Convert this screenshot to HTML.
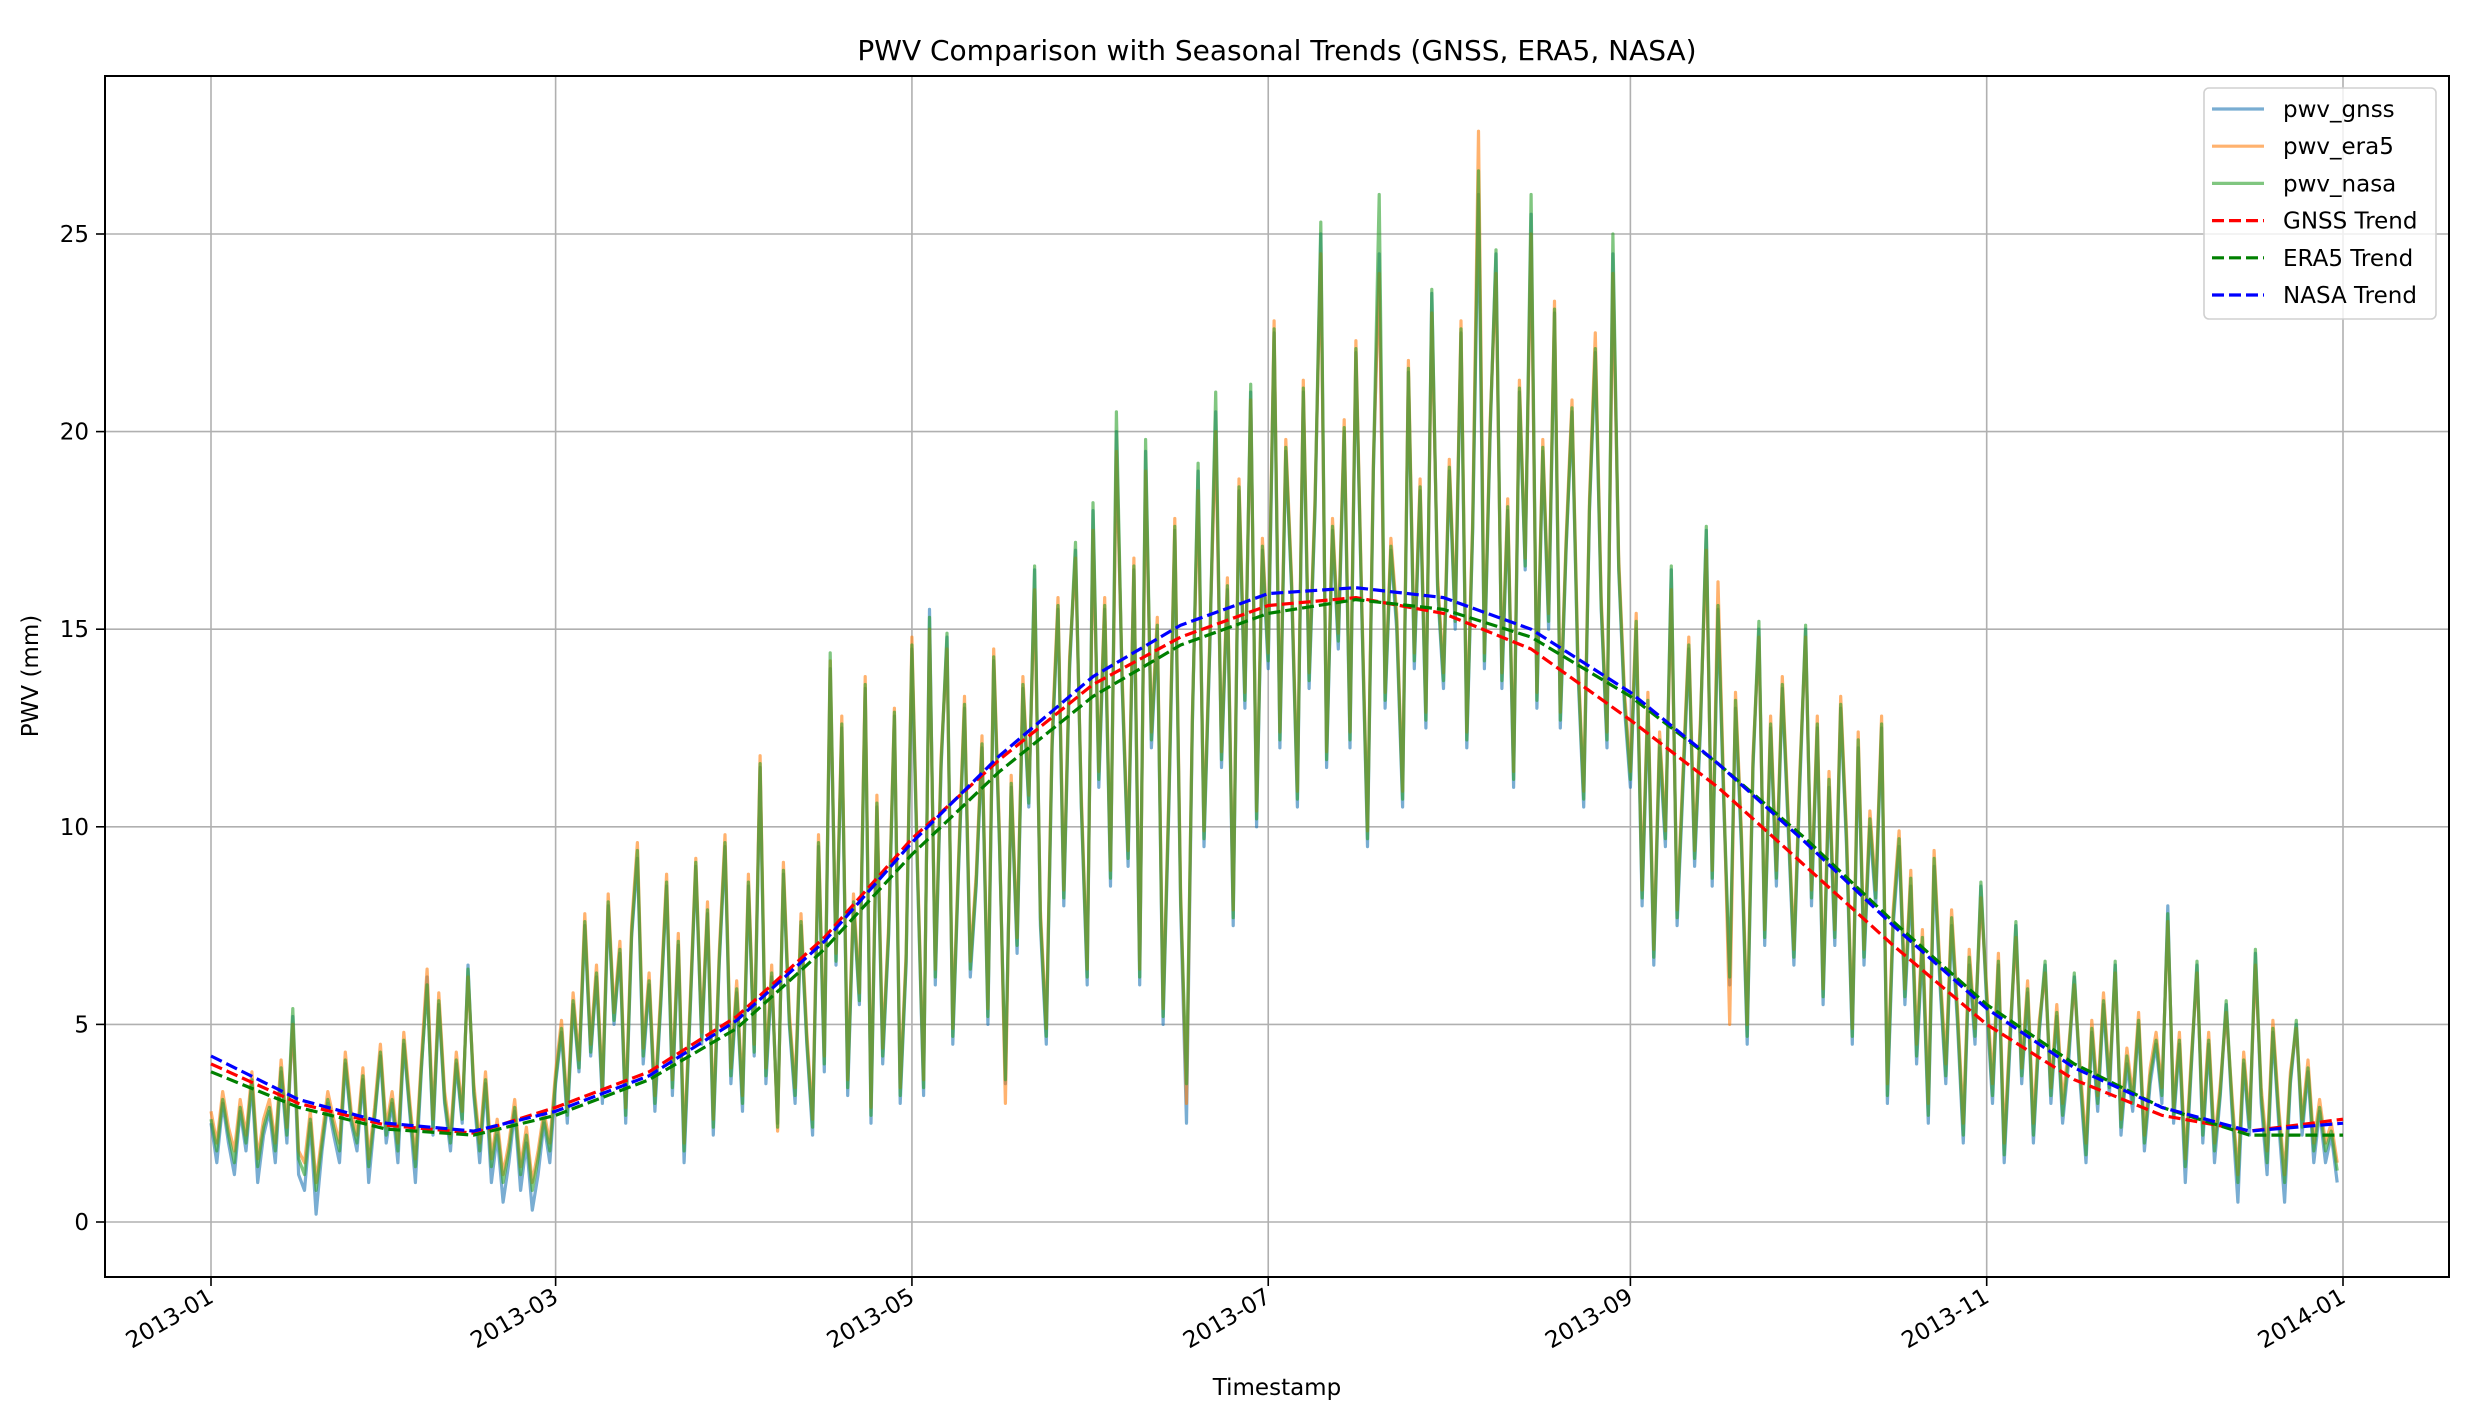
<!DOCTYPE html>
<html><head><meta charset="utf-8"><style>
html,body{margin:0;padding:0;background:#fff;}
svg{display:block;font-family:"DejaVu Sans","Liberation Sans",sans-serif;}
</style></head><body>
<svg id="chart" width="2476" height="1420" viewBox="0 0 2476 1420" xmlns="http://www.w3.org/2000/svg">
<rect width="2476" height="1420" fill="#fff"/>
<text x="1277" y="60" text-anchor="middle" font-size="28" fill="#000">PWV Comparison with Seasonal Trends (GNSS, ERA5, NASA)</text>
<g id="grid"></g>
<g id="plot"></g>
<rect x="105" y="76" width="2344" height="1201" fill="none" stroke="#000" stroke-width="2"/>
<g id="ticks"></g>
<text x="1277" y="1395" text-anchor="middle" font-size="23">Timestamp</text>
<text transform="translate(38,676) rotate(-90)" text-anchor="middle" font-size="23">PWV (mm)</text>
<g id="legend"></g>
</svg>
<script>
const xTickDays=[0,59,120,181,243,304,365];
const xTickLabels=["2013-01","2013-03","2013-05","2013-07","2013-09","2013-11","2014-01"];
const yTicks=[0,5,10,15,20,25];
const sampleStep=1;
const gnss=[2.5,1.5,3.0,2.0,1.2,2.8,1.8,3.5,1.0,2.2,2.8,1.5,3.8,2.0,5.2,1.2,0.8,2.5,0.2,1.8,3.0,2.2,1.5,4.0,2.5,1.8,3.6,1.0,2.6,4.2,2.0,
3.0,1.5,4.5,2.8,1.0,3.8,6.2,2.2,5.5,3.0,1.8,4.0,2.5,6.5,3.2,1.5,3.5,1.0,2.2,0.5,1.5,2.8,0.8,2.0,0.3,1.2,2.5,1.5,
3.5,4.8,2.5,5.5,3.8,7.5,4.2,6.2,3.0,8.0,5.0,6.8,2.5,7.2,9.2,4.0,6.0,2.8,5.5,8.5,3.2,7.0,1.5,5.2,9.0,4.5,7.8,2.2,6.5,9.5,3.5,
5.8,2.8,8.5,4.2,11.5,3.5,6.2,2.5,8.8,5.0,3.0,7.5,4.5,2.2,9.5,3.8,14.0,6.5,12.5,3.2,8.0,5.5,13.5,2.5,10.5,4.0,7.2,12.8,3.0,6.5,
14.5,8.5,3.2,15.5,6.0,11.5,14.8,4.5,9.0,13.0,6.2,8.5,12.0,5.0,14.2,9.5,3.5,11.0,6.8,13.5,10.5,16.5,7.5,4.5,12.0,15.5,8.0,14.0,17.0,10.5,6.0,
18.0,11.0,15.5,8.5,20.0,13.5,9.0,16.5,6.0,19.5,12.0,15.0,5.0,10.5,17.5,8.0,2.5,12.5,19.0,9.5,14.5,20.5,11.5,16.0,7.5,18.5,13.0,21.0,10.0,17.0,
14.0,22.5,12.0,19.5,16.0,10.5,21.0,13.5,18.0,25.0,11.5,17.5,14.5,20.0,12.0,22.0,15.5,9.5,19.0,24.5,13.0,17.0,15.0,10.5,21.5,14.0,18.5,12.5,23.5,16.0,13.5,
19.0,15.0,22.5,12.0,17.5,26.0,14.0,20.0,24.5,13.5,18.0,11.0,21.0,16.5,25.5,13.0,19.5,15.0,23.0,12.5,17.0,20.5,14.0,10.5,18.0,22.0,15.5,12.0,24.5,16.5,13.0,
11.0,15.0,8.0,13.0,6.5,12.0,9.5,16.5,7.5,11.0,14.5,9.0,12.5,17.5,8.5,15.5,10.5,6.0,13.0,9.5,4.5,11.5,15.0,7.0,12.5,8.5,13.5,10.0,6.5,11.0,
15.0,8.0,12.5,5.5,11.0,7.0,13.0,9.5,4.5,12.0,6.5,10.0,8.0,12.5,3.0,7.5,9.5,5.5,8.5,4.0,7.0,2.5,9.0,6.0,3.5,7.5,5.0,2.0,6.5,4.5,8.5,
5.5,3.0,6.5,1.5,4.5,7.5,3.5,5.8,2.0,4.8,6.5,3.0,5.2,2.5,4.0,6.2,3.5,1.5,4.8,2.8,5.5,3.2,6.5,2.2,4.0,2.8,5.0,1.8,3.5,4.5,
3.0,8.0,2.5,4.5,1.0,3.8,6.5,2.0,4.5,1.5,3.2,5.5,2.8,0.5,4.0,2.2,6.8,3.0,1.2,4.8,2.5,0.5,3.5,5.0,2.2,3.8,1.5,2.8,1.5,2.2,1.0];
const era5=[2.8,2.0,3.3,2.4,1.8,3.1,2.2,3.8,1.6,2.6,3.1,2.0,4.1,2.4,5.0,1.8,1.5,2.8,1.0,2.2,3.3,2.6,2.0,4.3,2.8,2.2,3.9,1.6,2.9,4.5,2.4,
3.3,2.0,4.8,3.1,1.6,4.1,6.4,2.6,5.8,3.3,2.2,4.3,2.8,6.2,3.5,2.0,3.8,1.6,2.6,1.2,2.0,3.1,1.4,2.4,1.0,1.8,2.8,2.0,
3.8,5.1,2.9,5.8,4.1,7.8,4.5,6.5,3.4,8.3,5.3,7.1,2.9,7.5,9.6,4.4,6.3,3.2,5.8,8.8,3.6,7.3,2.0,5.5,9.2,4.8,8.1,2.6,6.8,9.8,3.9,
6.1,3.2,8.8,4.5,11.8,3.9,6.5,2.3,9.1,5.3,3.4,7.8,4.8,2.6,9.8,4.2,14.2,6.8,12.8,3.6,8.3,5.8,13.8,2.9,10.8,4.4,7.5,13.0,3.4,6.8,
14.8,8.8,3.6,15.0,6.4,11.8,14.5,4.9,9.3,13.3,6.6,8.8,12.3,5.4,14.5,9.8,3.0,11.3,7.2,13.8,10.8,16.0,7.9,4.9,12.3,15.8,8.4,14.3,16.8,10.8,6.4,
17.5,11.4,15.8,8.9,19.5,13.8,9.4,16.8,6.4,19.0,12.4,15.3,5.4,10.9,17.8,8.4,3.0,12.8,18.5,9.9,14.8,20.0,11.9,16.3,7.9,18.8,13.4,20.8,10.4,17.3,
14.4,22.8,12.4,19.8,16.3,10.9,21.3,13.9,18.3,24.5,11.9,17.8,14.9,20.3,12.4,22.3,15.8,9.9,19.3,24.0,13.4,17.3,15.4,10.9,21.8,14.4,18.8,12.9,23.0,16.3,13.9,
19.3,15.4,22.8,12.4,17.8,27.6,14.4,20.3,24.0,13.9,18.3,11.4,21.3,16.8,25.0,13.4,19.8,15.4,23.3,12.9,17.3,20.8,14.4,10.9,18.3,22.5,15.8,12.4,24.0,16.8,13.4,
11.4,15.4,8.4,13.4,6.9,12.4,9.9,16.0,7.9,11.4,14.8,9.4,12.8,17.0,8.9,16.2,10.9,5.0,13.4,9.9,5.0,11.8,14.8,7.4,12.8,8.9,13.8,10.4,6.9,11.4,
14.8,8.4,12.8,5.9,11.4,7.4,13.3,9.9,4.9,12.4,6.9,10.4,8.4,12.8,3.5,7.9,9.9,5.9,8.9,4.5,7.4,3.0,9.4,6.4,4.0,7.9,5.4,2.5,6.9,4.9,8.2,
5.9,3.5,6.8,2.0,4.9,7.2,3.9,6.1,2.5,5.1,6.3,3.4,5.5,3.0,4.4,6.0,3.9,2.0,5.1,3.2,5.8,3.6,6.3,2.6,4.4,3.2,5.3,2.2,3.9,4.8,
3.4,7.6,2.9,4.8,1.6,4.1,6.3,2.5,4.8,2.0,3.5,5.3,3.2,1.2,4.3,2.6,6.5,3.4,1.8,5.1,2.9,1.2,3.8,4.9,2.6,4.1,2.0,3.1,2.0,2.5,1.5];
const nasa=[2.6,1.8,3.1,2.2,1.5,2.9,2.0,3.6,1.4,2.4,2.9,1.8,3.9,2.2,5.4,1.6,1.2,2.6,0.8,2.0,3.1,2.4,1.8,4.1,2.6,2.0,3.7,1.4,2.7,4.3,2.2,
3.1,1.8,4.6,2.9,1.4,3.9,6.0,2.4,5.6,3.1,2.0,4.1,2.6,6.4,3.3,1.8,3.6,1.4,2.4,1.0,1.8,2.9,1.2,2.2,0.8,1.6,2.6,1.8,
3.6,4.9,2.7,5.6,3.9,7.6,4.3,6.3,3.2,8.1,5.1,6.9,2.7,7.3,9.4,4.2,6.1,3.0,5.6,8.6,3.4,7.1,1.8,5.3,9.1,4.6,7.9,2.4,6.6,9.6,3.7,
5.9,3.0,8.6,4.3,11.6,3.7,6.3,2.4,8.9,5.1,3.2,7.6,4.6,2.4,9.6,4.0,14.4,6.6,12.6,3.4,8.1,5.6,13.6,2.7,10.6,4.2,7.3,12.9,3.2,6.6,
14.6,8.6,3.4,15.3,6.2,11.6,14.9,4.7,9.1,13.1,6.4,8.6,12.1,5.2,14.3,9.6,3.6,11.1,7.0,13.6,10.6,16.6,7.7,4.7,12.1,15.6,8.2,14.1,17.2,10.6,6.2,
18.2,11.2,15.6,8.7,20.5,13.6,9.2,16.6,6.2,19.8,12.2,15.1,5.2,10.7,17.6,8.2,3.5,12.6,19.2,9.7,14.6,21.0,11.7,16.1,7.7,18.6,13.2,21.2,10.2,17.1,
14.2,22.6,12.2,19.6,16.1,10.7,21.1,13.7,18.1,25.3,11.7,17.6,14.7,20.1,12.2,22.1,15.6,9.7,19.1,26.0,13.2,17.1,15.2,10.7,21.6,14.2,18.6,12.7,23.6,16.1,13.7,
19.1,15.2,22.6,12.2,17.6,26.6,14.2,20.1,24.6,13.7,18.1,11.2,21.1,16.6,26.0,13.2,19.6,15.2,23.1,12.7,17.1,20.6,14.2,10.7,18.1,22.1,15.6,12.2,25.0,16.6,13.2,
11.2,15.2,8.2,13.2,6.7,12.2,9.7,16.6,7.7,11.2,14.6,9.2,12.6,17.6,8.7,15.6,10.7,6.2,13.2,9.7,4.7,11.6,15.2,7.2,12.6,8.7,13.6,10.2,6.7,11.2,
15.1,8.2,12.6,5.7,11.2,7.2,13.1,9.7,4.7,12.2,6.7,10.2,8.2,12.6,3.2,7.7,9.7,5.7,8.7,4.2,7.2,2.7,9.2,6.2,3.7,7.7,5.2,2.2,6.7,4.7,8.6,
5.7,3.2,6.6,1.7,4.7,7.6,3.7,5.9,2.2,4.9,6.6,3.2,5.3,2.7,4.2,6.3,3.7,1.7,4.9,3.0,5.6,3.4,6.6,2.4,4.2,3.0,5.1,2.0,3.7,4.6,
3.2,7.8,2.7,4.6,1.4,3.9,6.6,2.2,4.6,1.8,3.3,5.6,3.0,1.0,4.1,2.4,6.9,3.2,1.5,4.9,2.7,1.0,3.6,5.1,2.4,3.9,1.8,2.9,1.8,2.3,1.3];
const trendDays=[0,15,30,45,59,75,90,105,120,135,151,166,181,196,211,226,243,258,273,288,304,319,334,349,365];
const gnssTrend=[4.0,3.0,2.45,2.25,2.9,3.8,5.2,7.2,9.7,11.7,13.6,14.8,15.6,15.8,15.4,14.5,12.7,11.0,9.0,7.0,5.0,3.6,2.7,2.3,2.6];
const era5Trend=[3.8,2.9,2.35,2.2,2.7,3.6,4.9,6.9,9.3,11.4,13.3,14.6,15.4,15.75,15.5,14.8,13.3,11.6,9.7,7.6,5.5,4.0,2.9,2.2,2.2];
const nasaTrend=[4.2,3.1,2.5,2.3,2.8,3.7,5.1,7.1,9.6,11.8,13.8,15.1,15.9,16.05,15.8,15.0,13.4,11.6,9.6,7.5,5.4,3.9,2.9,2.3,2.5];

const NS='http://www.w3.org/2000/svg';
const X0=105,X1=2449,Y0=76,Y1=1277;
const xD=d=>211+d*(2343-211)/365;
const yV=v=>1222-v*(1222-234)/25;
function mk(tag,attrs,parent){const e=document.createElementNS(NS,tag);for(const k in attrs)e.setAttribute(k,attrs[k]);parent.appendChild(e);return e;}
const grid=document.getElementById('grid'),plot=document.getElementById('plot'),ticks=document.getElementById('ticks'),leg=document.getElementById('legend');
xTickDays.forEach((d,i)=>{
  const g=mk('line',{x1:xD(d),x2:xD(d),y1:Y0,y2:Y1,stroke:'#b0b0b0','stroke-width':1.6},grid);
  
  
  const t=mk('line',{x1:xD(d),x2:xD(d),y1:Y1,y2:Y1+9,stroke:'#000','stroke-width':1.6},ticks);
  
  
  const l=mk('text',{x:0,y:0,'font-size':23,'text-anchor':'end',transform:`translate(${xD(d)+4},${Y1+24}) rotate(-30)`},ticks);
  l.textContent=xTickLabels[i];
  
  
});
yTicks.forEach(v=>{
  const g=mk('line',{x1:X0,x2:X1,y1:yV(v),y2:yV(v),stroke:'#b0b0b0','stroke-width':1.6},grid);
  
  
  const t=mk('line',{x1:X0-9,x2:X0,y1:yV(v),y2:yV(v),stroke:'#000','stroke-width':1.6},ticks);
  
  
  const l=mk('text',{x:X0-16,y:yV(v)+8,'font-size':23,'text-anchor':'end'},ticks);
  l.textContent=String(v);
  
  
});
function series(vals,color,name){
  const pts=vals.map((v,i)=>xD(i*sampleStep).toFixed(1)+','+yV(v).toFixed(1)).join(' ');
  const p=mk('polyline',{points:pts,fill:'none',stroke:color,'stroke-opacity':0.6,'stroke-width':3.2,'stroke-linejoin':'round'},plot);
  
  
}
function trend(vals,color,name){
  const pts=vals.map((v,i)=>xD(trendDays[i]).toFixed(1)+','+yV(v).toFixed(1)).join(' ');
  const p=mk('polyline',{points:pts,fill:'none',stroke:color,'stroke-width':3.2,'stroke-dasharray':'12 5','stroke-linejoin':'round'},plot);
  
  
}
series(gnss,'#1f77b4','pwv-gnss-line');
series(era5,'#ff7f0e','pwv-era5-line');
series(nasa,'#2ca02c','pwv-nasa-line');
trend(gnssTrend,'#ff0000','gnss-trend-line');
trend(era5Trend,'#008000','era5-trend-line');
trend(nasaTrend,'#0000ff','nasa-trend-line');
const lb=mk('rect',{x:2204,y:88,width:232,height:231,rx:5,fill:'#fff','fill-opacity':0.8,stroke:'#d0d0d0','stroke-width':1.6},leg);


const entries=[['pwv_gnss','#1f77b4',0.6,''],['pwv_era5','#ff7f0e',0.6,''],['pwv_nasa','#2ca02c',0.6,''],['GNSS Trend','#ff0000',1,'12 5'],['ERA5 Trend','#008000',1,'12 5'],['NASA Trend','#0000ff',1,'12 5']];
entries.forEach((e,i)=>{
  const y=109+i*37.2;
  const g=mk('g',{},leg);
  
  
  mk('line',{x1:2212,x2:2264,y1:y,y2:y,stroke:e[1],'stroke-opacity':e[2],'stroke-width':3.2,'stroke-dasharray':e[3]},g);
  const t=mk('text',{x:2283,y:y+8,'font-size':23},g);
  t.textContent=e[0];
});
</script>
</body></html>
